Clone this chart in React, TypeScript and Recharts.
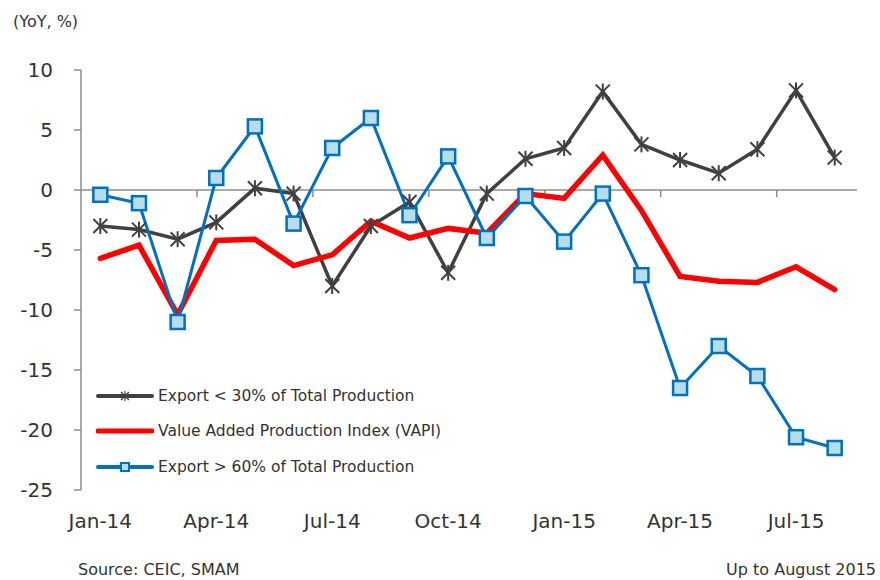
import React from 'react';
import { LineChart, Line, XAxis, YAxis, ReferenceLine } from 'recharts';

const months = [
    'Jan-14', 'Feb-14', 'Mar-14', 'Apr-14', 'May-14', 'Jun-14', 'Jul-14', 'Aug-14', 'Sep-14', 'Oct-14',
    'Nov-14', 'Dec-14', 'Jan-15', 'Feb-15', 'Mar-15', 'Apr-15', 'May-15', 'Jun-15', 'Jul-15', 'Aug-15',
];
const exportBelow30 = [-3.0, -3.3, -4.1, -2.7, 0.15, -0.3, -8.0, -3.0, -1.0, -6.9, -0.3, 2.6, 3.5, 8.2, 3.8, 2.5, 1.4, 3.4, 8.3, 2.7];
const vapi = [-5.7, -4.6, -10.4, -4.2, -4.1, -6.3, -5.4, -2.6, -4.0, -3.2, -3.6, -0.3, -0.7, 2.9, -1.7, -7.2, -7.6, -7.7, -6.4, -8.3];
const exportAbove60 = [-0.4, -1.1, -11.0, 1.0, 5.3, -2.8, 3.5, 6.0, -2.1, 2.8, -4.0, -0.5, -4.3, -0.3, -7.1, -16.5, -13.0, -15.5, -20.6, -21.5];
const yTicks = [-25, -20, -15, -10, -5, 0, 5, 10];

const labelBelow30 = 'Export < 30% of Total Production';
const labelVapi = 'Value Added Production Index (VAPI)';
const labelAbove60 = 'Export > 60% of Total Production';

const data = months.map((m, i) => ({
    month: m,
    below30: exportBelow30[i],
    vapi: vapi[i],
    above60: exportAbove60[i],
}));

const FONT = '"DejaVu Sans", Verdana, sans-serif';
const GREY = '#404040';
const RED = '#ff0000';
const BLUE = '#0070c0';
const SQUARE_FILL = '#b7dde8';
const AXIS = '#8c8c8c';

const StarDot = (props: any) => {
    const { cx, cy } = props;
    if (cx == null || cy == null) return null;
    const r = 7;
    return (
        <g stroke={GREY} strokeWidth={2}>
            <line x1={cx - r} y1={cy - r} x2={cx + r} y2={cy + r} />
            <line x1={cx - r} y1={cy + r} x2={cx + r} y2={cy - r} />
            <line x1={cx} y1={cy - r - 1} x2={cx} y2={cy + r + 1} />
        </g>
    );
};

const SquareDot = (props: any) => {
    const { cx, cy } = props;
    if (cx == null || cy == null) return null;
    const s = 14;
    return <rect x={cx - s / 2} y={cy - s / 2} width={s} height={s} fill={SQUARE_FILL} stroke={BLUE} strokeWidth={2.5} />;
};

// zero line acts as the category axis, with tick marks every 3 months between categories
const ZeroAxis = (props: any) => {
    const { x1, x2, y1 } = props;
    const step = (x2 - x1) / months.length;
    const marks: number[] = [];
    for (let i = 3; i < months.length; i += 3) marks.push(x1 + step * i);
    return (
        <g>
            <line x1={x1} x2={x2 + 3} y1={y1} y2={y1} stroke={AXIS} strokeWidth={1.5} />
            {marks.map((x) => (
                <line key={x} x1={x} x2={x} y1={y1} y2={y1 + 7} stroke={AXIS} strokeWidth={1.5} />
            ))}
        </g>
    );
};

const LegendBox = () => {
    const rows = [
        { label: labelBelow30, color: GREY, width: 4, marker: 'star' },
        { label: labelVapi, color: RED, width: 5, marker: 'none' },
        { label: labelAbove60, color: BLUE, width: 4, marker: 'square' },
    ];
    return (
        <div style={{ position: 'absolute', left: 96, top: 378, fontFamily: FONT, fontSize: 15.5, color: '#333' }}>
            {rows.map((r) => (
                <div key={r.label} style={{ display: 'flex', alignItems: 'center', height: 35.5 }}>
                    <svg width={58} height={14} style={{ marginRight: 4 }}>
                        <line x1={2} x2={56} y1={7} y2={7} stroke={r.color} strokeWidth={r.width} strokeLinecap="round" />
                        {r.marker === 'star' && (
                            <g stroke={GREY} strokeWidth={1.2}>
                                <line x1={25} y1={3} x2={33} y2={11} />
                                <line x1={25} y1={11} x2={33} y2={3} />
                                <line x1={29} y1={2} x2={29} y2={12} />
                            </g>
                        )}
                        {r.marker === 'square' && (
                            <rect x={25} y={3} width={8} height={8} fill={SQUARE_FILL} stroke={BLUE} strokeWidth={2} />
                        )}
                    </svg>
                    <span>{r.label}</span>
                </div>
            ))}
        </div>
    );
};

export default function App() {
    return (
        <div style={{ position: 'absolute', left: 0, top: 0, width: 880, height: 580, background: '#fff', fontFamily: FONT }}>
            <div style={{ position: 'absolute', left: 13, top: 12, fontSize: 16, color: '#333' }}>(YoY, %)</div>
            <LineChart width={880} height={580} data={data} margin={{ top: 70, right: 26, bottom: 50, left: 0 }}>
                <XAxis
                    dataKey="month"
                    scale="band"
                    interval={2}
                    axisLine={false}
                    tickLine={false}
                    tickSize={8}
                    tickMargin={16}
                    height={40}
                    tick={{ fill: '#333', fontSize: 20, fontFamily: FONT }}
                />
                <YAxis
                    domain={[-25, 10]}
                    ticks={yTicks}
                    width={81}
                    axisLine={{ stroke: AXIS, strokeWidth: 1.5 }}
                    tickLine={{ stroke: AXIS, strokeWidth: 1.5 }}
                    tickSize={7}
                    tickMargin={21}
                    tick={{ fill: '#333', fontSize: 20, fontFamily: FONT }}
                />
                <ReferenceLine y={0} shape={ZeroAxis} />
                <Line
                    dataKey="below30"
                    name={labelBelow30}
                    stroke={GREY}
                    strokeWidth={3.5}
                    dot={<StarDot />}
                    isAnimationActive={false}
                />
                <Line
                    dataKey="vapi"
                    name={labelVapi}
                    stroke={RED}
                    strokeWidth={5.5}
                    strokeLinecap="round"
                    dot={false}
                    isAnimationActive={false}
                />
                <Line
                    dataKey="above60"
                    name={labelAbove60}
                    stroke={BLUE}
                    strokeWidth={3}
                    dot={<SquareDot />}
                    isAnimationActive={false}
                />
            </LineChart>
            <LegendBox />
            <div style={{ position: 'absolute', left: 78, top: 560, fontSize: 16, color: '#333' }}>Source: CEIC, SMAM</div>
            <div style={{ position: 'absolute', right: 4, top: 560, fontSize: 16, color: '#333' }}>Up to August 2015</div>
        </div>
    );
}
